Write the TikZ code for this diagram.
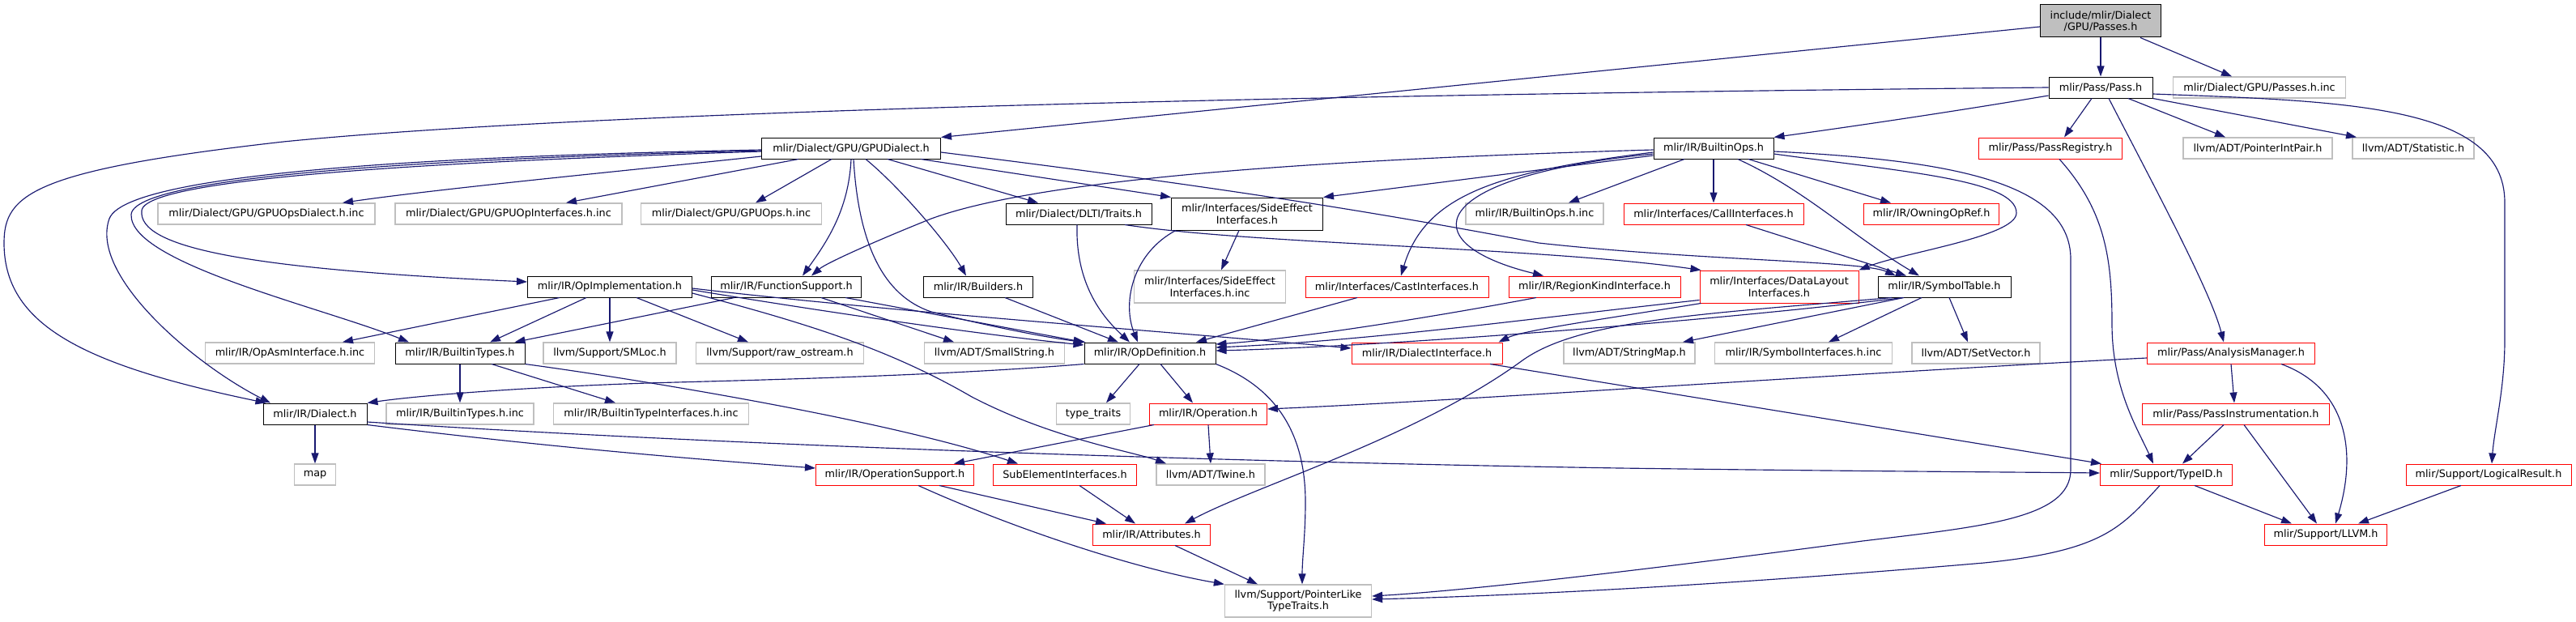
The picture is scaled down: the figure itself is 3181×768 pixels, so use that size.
\documentclass[tikz,border=0pt]{standalone}
\usepackage{fontspec}
\setmainfont{DejaVu Sans}
\usetikzlibrary{arrows.meta}
\definecolor{edgeblue}{HTML}{191970}
\definecolor{lgray}{HTML}{BFBFBF}
\definecolor{rootfill}{HTML}{BFBFBF}
\newcommand{\nodefont}{\fontsize{12.8pt}{14.5pt}\selectfont}
\tikzset{
  nd/.style={draw, line width=1.0pt, inner sep=0pt, minimum height=26pt, font=\nodefont, align=center, fill=white},
  blk/.style={nd, draw=black},
  gry/.style={nd, draw=lgray, line width=1.3pt},
  rd/.style={nd, draw=red},
  tall/.style={minimum height=40pt},
  e/.style={draw=edgeblue, line width=1.15pt, -{Triangle[length=13pt,width=9pt]}},
}
\begin{document}
\begin{tikzpicture}[x=1pt,y=-1pt]
\useasboundingbox (0,0) rectangle (3181,768);
% row 0
\node[blk, tall, fill=rootfill, minimum width=149pt] (root) at (2594,26) {include/mlir/Dialect\\/GPU/Passes.h};
% row 1
\node[blk, minimum width=128pt] (pass) at (2594,108) {mlir/Pass/Pass.h};
\node[gry, minimum width=213pt] (passinc) at (2790,108) {mlir/Dialect/GPU/Passes.h.inc};
% row 2
\node[blk, minimum width=221pt] (gpud) at (1051,183) {mlir/Dialect/GPU/GPUDialect.h};
\node[blk, minimum width=148pt] (bops) at (2116,183) {mlir/IR/BuiltinOps.h};
\node[rd, minimum width=177pt] (preg) at (2532,183) {mlir/Pass/PassRegistry.h};
\node[gry, minimum width=184pt] (pip) at (2788,183) {llvm/ADT/PointerIntPair.h};
\node[gry, minimum width=150pt] (stat) at (2980,183) {llvm/ADT/Statistic.h};
% row 3
\node[gry, minimum width=268pt] (gpuopsdia) at (329,264) {mlir/Dialect/GPU/GPUOpsDialect.h.inc};
\node[gry, minimum width=280pt] (gpuopint) at (628,264) {mlir/Dialect/GPU/GPUOpInterfaces.h.inc};
\node[gry, minimum width=223pt] (gpuops) at (903,264) {mlir/Dialect/GPU/GPUOps.h.inc};
\node[blk, minimum width=180pt] (dlti) at (1332,264) {mlir/Dialect/DLTI/Traits.h};
\node[blk, tall, minimum width=187pt] (sideeff) at (1540,264) {mlir/Interfaces/SideEffect\\Interfaces.h};
\node[gry, minimum width=170pt] (bopsinc) at (1895,264) {mlir/IR/BuiltinOps.h.inc};
\node[rd, minimum width=222pt] (callif) at (2116,264) {mlir/Interfaces/CallInterfaces.h};
\node[rd, minimum width=167pt] (owning) at (2385,264) {mlir/IR/OwningOpRef.h};
% row 4
\node[blk, minimum width=203pt] (opimpl) at (753,354) {mlir/IR/OpImplementation.h};
\node[blk, minimum width=185pt] (funcsup) at (971,354) {mlir/IR/FunctionSupport.h};
\node[blk, minimum width=135pt] (builders) at (1208,354) {mlir/IR/Builders.h};
\node[gry, tall, minimum width=187pt] (sideinc) at (1494,354) {mlir/Interfaces/SideEffect\\Interfaces.h.inc};
\node[rd, minimum width=226pt] (castif) at (1725,354) {mlir/Interfaces/CastInterfaces.h};
\node[rd, minimum width=212pt] (regkind) at (1969,354) {mlir/IR/RegionKindInterface.h};
\node[rd, tall, minimum width=196pt] (dlayout) at (2197,354) {mlir/Interfaces/DataLayout\\Interfaces.h};
\node[blk, minimum width=164pt] (symtab) at (2401,354) {mlir/IR/SymbolTable.h};
% row 5
\node[gry, minimum width=209pt] (opasm) at (358,436) {mlir/IR/OpAsmInterface.h.inc};
\node[blk, minimum width=160pt] (btypes) at (568,436) {mlir/IR/BuiltinTypes.h};
\node[gry, minimum width=164pt] (smloc) at (753,436) {llvm/Support/SMLoc.h};
\node[gry, minimum width=207pt] (rawos) at (963,436) {llvm/Support/raw\_ostream.h};
\node[gry, minimum width=173pt] (smallstr) at (1228,436) {llvm/ADT/SmallString.h};
\node[blk, minimum width=162pt] (opdef) at (1420,436) {mlir/IR/OpDefinition.h};
\node[rd, minimum width=186pt] (dialif) at (1762,436) {mlir/IR/DialectInterface.h};
\node[gry, minimum width=162pt] (strmap) at (2012,436) {llvm/ADT/StringMap.h};
\node[gry, minimum width=219pt] (symif) at (2227,436) {mlir/IR/SymbolInterfaces.h.inc};
\node[gry, minimum width=158pt] (setvec) at (2440,436) {llvm/ADT/SetVector.h};
\node[rd, minimum width=207pt] (anmgr) at (2755,436) {mlir/Pass/AnalysisManager.h};
% row 6
\node[blk, minimum width=128pt] (dialect) at (389,511) {mlir/IR/Dialect.h};
\node[gry, minimum width=182pt] (btinc) at (568,511) {mlir/IR/BuiltinTypes.h.inc};
\node[gry, minimum width=241pt] (btiinc) at (804,511) {mlir/IR/BuiltinTypeInterfaces.h.inc};
\node[gry, minimum width=91pt] (typetr) at (1350,511) {type\_traits};
\node[rd, minimum width=145pt] (operation) at (1492,511) {mlir/IR/Operation.h};
\node[rd, minimum width=231pt] (pinstr) at (2761,511) {mlir/Pass/PassInstrumentation.h};
% row 7
\node[gry, minimum width=51pt] (map) at (389,586) {map};
\node[rd, minimum width=195pt] (opsup) at (1105,586) {mlir/IR/OperationSupport.h};
\node[rd, minimum width=177pt] (subel) at (1315,586) {SubElementInterfaces.h};
\node[gry, minimum width=134pt] (twine) at (1495,586) {llvm/ADT/Twine.h};
\node[rd, minimum width=163pt] (typeid) at (2675,586) {mlir/Support/TypeID.h};
\node[rd, minimum width=204pt] (logres) at (3073,586) {mlir/Support/LogicalResult.h};
% row 8
\node[rd, minimum width=145pt] (attrs) at (1422,660) {mlir/IR/Attributes.h};
\node[rd, minimum width=151pt] (llvmh) at (2872,660) {mlir/Support/LLVM.h};
% row 9
\node[gry, tall, minimum width=181pt] (plike) at (1603,742) {llvm/Support/PointerLike\\TypeTraits.h};

% ---- edges
\draw[e] (root.south) -- (pass.north);
\draw[e] ([xshift=49pt]root.south) -- ([xshift=-34pt]passinc.north);
\draw[e] ([yshift=-7pt]root.west) -- (gpud.north east);

\draw[e] (pass.west) .. controls (1500,118) and (700,140) .. (350,175) .. controls (40,210) and (5,240) .. (5,300) .. controls (5,400) and (100,450) .. ([xshift=4pt]dialect.north west);
\draw[e] ([yshift=-10pt]pass.west) .. controls (2400,140) and (2260,160) .. (bops.north east);
\draw[e] ([xshift=-11pt]pass.south) -- ([xshift=17pt]preg.north);
\draw[e] ([xshift=34pt]pass.south) -- ([xshift=-40pt]pip.north);
\draw[e] (pass.south east) -- ([xshift=-70pt]stat.north);
\draw[e] ([xshift=10pt]pass.south) .. controls (2660,230) and (2730,360) .. ([xshift=-9pt]anmgr.north);
\draw[e] ([yshift=-8pt]pass.east) .. controls (2900,125) and (3093,130) .. (3093,250) -- (3093,420) .. controls (3093,480) and (3080,530) .. ([xshift=4pt]logres.north);

\draw[e] ([xshift=11pt]preg.south) .. controls (2600,260) and (2608,320) .. (2608,400) .. controls (2608,480) and (2640,530) .. ([xshift=-16pt]typeid.north);

% GPUDialect
\draw[e] ([yshift=-10pt]gpud.west) .. controls (800,208) and (550,232) .. ([xshift=94pt]gpuopsdia.north);
\draw[e] ([xshift=-65pt]gpud.south) -- ([xshift=71pt]gpuopint.north);
\draw[e] ([xshift=-24pt]gpud.south) -- ([xshift=30pt]gpuops.north);
\draw[e] (gpud.south) .. controls (1048,260) and (1020,300) .. ([xshift=20pt]funcsup.north);
\draw[e] ([xshift=3pt]gpud.south) .. controls (1060,300) and (1090,365) .. (1150,385) .. controls (1230,405) and (1300,418) .. ([xshift=2pt]opdef.north west);
\draw[e] ([xshift=18pt]gpud.south) .. controls (1110,230) and (1170,300) .. ([xshift=-15pt]builders.north);
\draw[e] ([xshift=45pt]gpud.south) -- ([xshift=-50pt]dlti.north);
\draw[e] ([xshift=86pt]gpud.south) -- (sideeff.north west);
\draw[e] ([yshift=-5pt]gpud.east) .. controls (1500,230) and (1700,262) .. (1900,300) .. controls (2100,322) and (2300,322) .. ([xshift=-60pt]symtab.north);
\draw[e] ([yshift=-4pt]gpud.west) .. controls (700,195) and (180,212) .. (175,260) .. controls (170,305) and (300,332) .. ([yshift=6pt]opimpl.west);
\draw[e] ([yshift=-3pt]gpud.west) .. controls (700,192) and (165,208) .. (162,265) .. controls (160,325) and (400,380) .. ([xshift=-63pt]btypes.north);
\draw[e] ([yshift=-2pt]gpud.west) .. controls (700,190) and (160,203) .. (135,270) .. controls (110,340) and (240,450) .. ([xshift=-55pt]dialect.north);

% BuiltinOps
\draw[e] ([yshift=-2pt]bops.west) .. controls (1700,195) and (1300,215) .. (1150,270) .. controls (1080,298) and (1020,325) .. ([xshift=31pt]funcsup.north);
\draw[e] ([yshift=-9pt]bops.west) -- (sideeff.north east);
\draw[e] ([xshift=-36pt]bops.south) -- ([xshift=42pt]bopsinc.north);
\draw[e] (bops.south) -- (callif.north);
\draw[e] ([xshift=43pt]bops.south) -- ([xshift=-50pt]owning.north);
\draw[e] ([xshift=30pt]bops.south) .. controls (2230,235) and (2285,290) .. ([xshift=-31pt]symtab.north);
\draw[e] ([yshift=-5pt]bops.west) .. controls (1850,212) and (1760,240) .. ([xshift=5pt]castif.north);
\draw[e] ([yshift=-7pt]bops.west) .. controls (1760,218) and (1740,300) .. ([xshift=-63pt]regkind.north);
\draw[e] ([yshift=-7pt]bops.east) .. controls (2350,212) and (2490,222) .. (2490,263) .. controls (2490,292) and (2350,312) .. (dlayout.north east);
\draw[e] ([yshift=-4pt]bops.east) .. controls (2420,198) and (2557,228) .. (2557,320) -- (2557,580) .. controls (2557,640) and (2450,650) .. (2300,668) .. controls (2000,708) and (1800,730) .. ([yshift=6pt]plike.east);

% DLTI, SideEffect
\draw[e] ([xshift=57pt]dlti.south) .. controls (1550,302) and (1900,305) .. ([xshift=2pt]dlayout.north west);
\draw[e] ([xshift=-2pt]dlti.south) .. controls (1328,350) and (1360,390) .. ([xshift=-25pt]opdef.north);
\draw[e] ([xshift=-10pt]sideeff.south) -- ([xshift=14pt]sideinc.north);
\draw[e] ([xshift=-88pt]sideeff.south) .. controls (1400,312) and (1385,372) .. ([xshift=-15pt]opdef.north);
\draw[e] ([xshift=40pt]callif.south) -- ([xshift=-47pt]symtab.north);

% row 4 sources
\draw[e] ([xshift=-49pt]castif.south) -- ([xshift=57pt]opdef.north);
\draw[e] ([xshift=-72pt]regkind.south) .. controls (1750,395) and (1600,418) .. ([yshift=11pt]opdef.east);
\draw[e] ([yshift=4pt]dlayout.south west) .. controls (1900,392) and (1700,420) .. ([yshift=7pt]opdef.east);
\draw[e] ([xshift=2pt]dlayout.south west) .. controls (1980,394) and (1880,408) .. ([xshift=-5pt]dialif.north east);
\draw[e] ([xshift=-51pt]symtab.south) .. controls (2100,398) and (1700,428) .. ([yshift=3pt]opdef.east);
\draw[e] ([xshift=-65pt]symtab.south) .. controls (2100,388) and (1950,395) .. (1880,445) .. controls (1750,540) and (1550,600) .. ([xshift=41pt]attrs.north);
\draw[e] ([xshift=-50pt]symtab.south) -- ([xshift=66pt]strmap.north);
\draw[e] ([xshift=-28pt]symtab.south) -- ([xshift=31pt]symif.north);
\draw[e] ([xshift=6pt]symtab.south) -- ([xshift=-10pt]setvec.north);

% OpImplementation
\draw[e] ([xshift=-62pt]opimpl.south) -- ([xshift=65pt]opasm.north);
\draw[e] ([xshift=-29pt]opimpl.south) -- ([xshift=37pt]btypes.north);
\draw[e] (opimpl.south) -- (smloc.north);
\draw[e] ([xshift=33pt]opimpl.south) -- ([xshift=-39pt]rawos.north);
\draw[e] ([yshift=-8pt]opimpl.east) .. controls (1000,400) and (1100,432) .. (1200,490) .. controls (1300,542) and (1400,558) .. ([xshift=-55pt]twine.north);
\draw[e] ([yshift=-4pt]opimpl.east) .. controls (1000,382) and (1200,412) .. ([yshift=10pt]opdef.west);
\draw[e] ([yshift=-2pt]opimpl.east) .. controls (1100,385) and (1450,410) .. ([yshift=6pt]dialif.west);

% FunctionSupport, Builders
\draw[e] ([xshift=-64pt]funcsup.south) -- ([xshift=-13pt]btypes.north east);
\draw[e] ([xshift=43pt]funcsup.south) -- ([xshift=-50pt]smallstr.north);
\draw[e] ([xshift=73pt]funcsup.south) -- (opdef.north west);
\draw[e] ([xshift=33pt]builders.south) -- ([xshift=-39pt]opdef.north);

% BuiltinTypes
\draw[e] (btypes.south) -- (btinc.north);
\draw[e] ([xshift=39pt]btypes.south) -- ([xshift=-44pt]btiinc.north);
\draw[e] (btypes.south east) .. controls (800,470) and (1100,520) .. ([xshift=-58pt]subel.north);

% OpDefinition
\draw[e] (opdef.south west) .. controls (1150,465) and (900,470) .. (800,473) .. controls (650,478) and (520,488) .. (dialect.north east);
\draw[e] ([xshift=-13pt]opdef.south) -- ([xshift=16pt]typetr.north);
\draw[e] ([xshift=13pt]opdef.south) -- ([xshift=-19pt]operation.north);
\draw[e] (opdef.south east) .. controls (1580,480) and (1612,540) .. (1612,620) .. controls (1612,660) and (1608,690) .. ([xshift=5pt]plike.north);

% Operation
\draw[e] ([xshift=-67pt]operation.south) -- ([xshift=73pt]opsup.north);
\draw[e] (operation.south) -- (twine.north);

% Dialect
\draw[e] (dialect.south) -- (map.north);
\draw[e] (dialect.south east) .. controls (700,555) and (900,570) .. ([yshift=8pt]opsup.west);
\draw[e] ([yshift=-10pt]dialect.east) .. controls (900,550) and (1500,570) .. (2000,578) .. controls (2300,582) and (2500,583) .. ([yshift=2pt]typeid.west);

% OperationSupport, SubElement, Attributes
\draw[e] ([xshift=55pt]opsup.south) -- ([xshift=-56pt]attrs.north);
\draw[e] ([xshift=29pt]opsup.south) .. controls (1250,652) and (1400,702) .. (plike.north west);
\draw[e] ([xshift=18pt]subel.south) -- ([xshift=-20pt]attrs.north);
\draw[e] ([xshift=29pt]attrs.south) -- ([xshift=-50pt]plike.north);

% Pass side
\draw[e] ([yshift=-6pt]anmgr.west) .. controls (2300,460) and (1800,495) .. ([yshift=6pt]operation.east);
\draw[e] (anmgr.south) -- ([xshift=-2pt]pinstr.north);
\draw[e] ([xshift=62pt]anmgr.south) .. controls (2900,480) and (2910,560) .. ([xshift=12pt]llvmh.north);
\draw[e] ([xshift=-15pt]pinstr.south) -- ([xshift=20pt]typeid.north);
\draw[e] ([xshift=10pt]pinstr.south) -- ([xshift=-11pt]llvmh.north);
\draw[e] ([xshift=35pt]typeid.south) -- ([xshift=-42pt]llvmh.north);
\draw[e] ([xshift=-34pt]logres.south) -- ([xshift=40pt]llvmh.north);
\draw[e] ([xshift=-8pt]typeid.south) .. controls (2620,650) and (2600,680) .. (2450,695) .. controls (2100,725) and (1850,736) .. ([yshift=2pt]plike.east);
\draw[e] ([xshift=78pt]dialif.south) -- ([xshift=2pt]typeid.north west);
\end{tikzpicture}
\end{document}
